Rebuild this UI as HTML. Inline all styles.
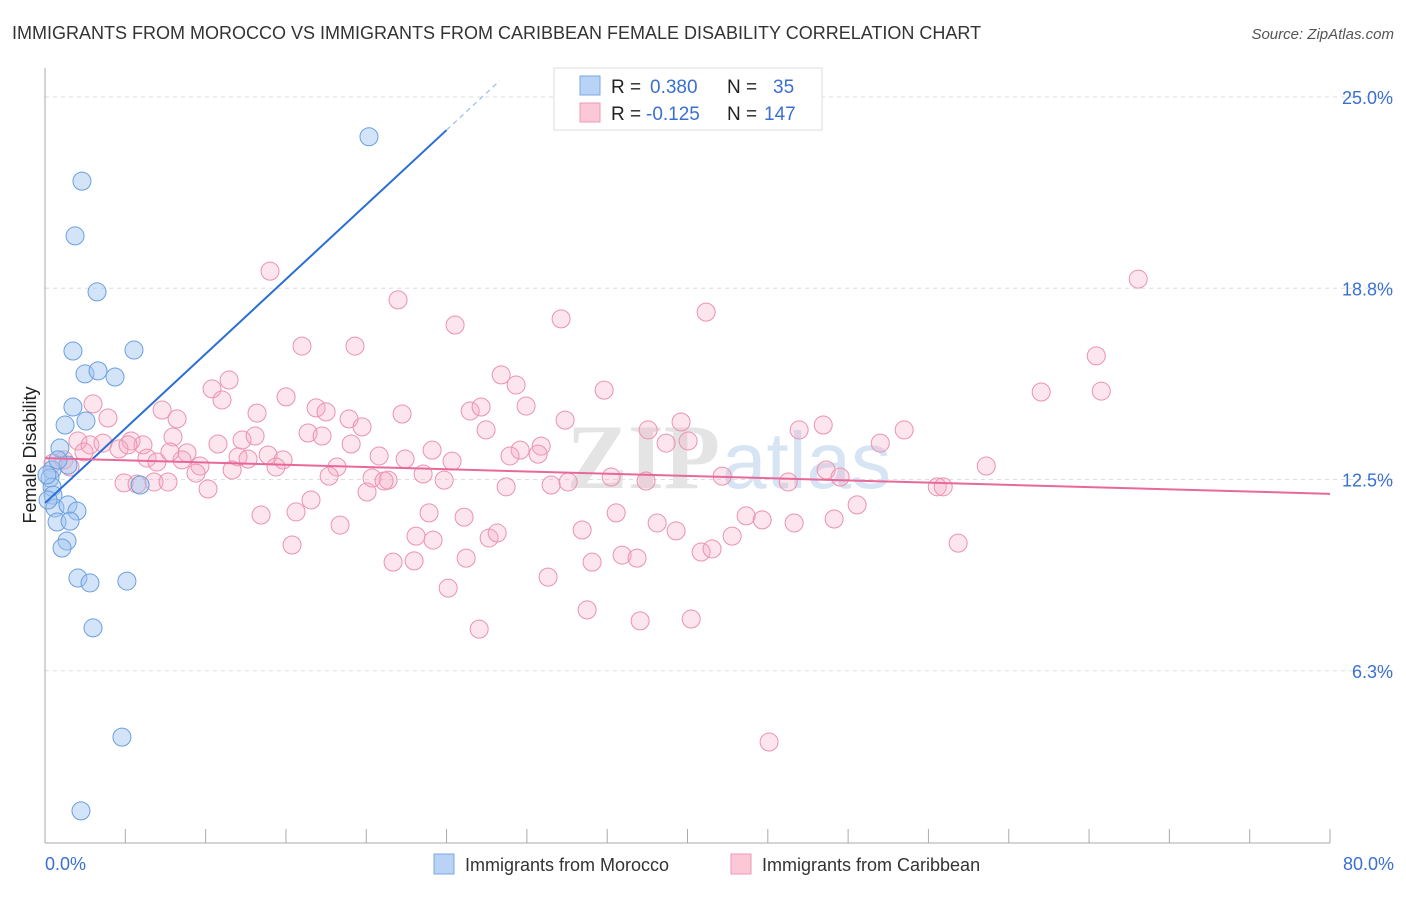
<!DOCTYPE html>
<html><head><meta charset="utf-8"><style>
body{margin:0;background:#fff;font-family:"Liberation Sans",sans-serif}
</style></head><body>
<svg width="1406" height="892" xmlns="http://www.w3.org/2000/svg" font-family="Liberation Sans, sans-serif">
<text x="12" y="39" font-size="18" fill="#333">IMMIGRANTS FROM MOROCCO VS IMMIGRANTS FROM CARIBBEAN FEMALE DISABILITY CORRELATION CHART</text>
<text x="1394" y="39" font-size="15" fill="#555" font-style="italic" text-anchor="end">Source: ZipAtlas.com</text>
<g id="grid"></g>
<text x="720" y="488" font-size="92" font-family="Liberation Serif, serif" fill="#e4e4e4" text-anchor="end" font-weight="bold">ZIP</text>
<text x="722" y="488" font-size="80" fill="#d6e4f4">atlas</text>
<g id="pts"></g>
<g id="lines"></g>
<text x="36" y="455" font-size="18" fill="#222" text-anchor="middle" transform="rotate(-90 36 455)">Female Disability</text>
<text x="45" y="870" font-size="18" fill="#3a70d0">0.0%</text>
<text x="1394" y="870" font-size="18" fill="#3a70d0" text-anchor="end">80.0%</text>
<g>
<rect x="554" y="68" width="268" height="62" fill="#fff" stroke="#ddd"/>
<rect x="580" y="76" width="20" height="19" fill="#b8d3f5" stroke="#7aa8e6"/>
<rect x="580" y="103" width="20" height="19" fill="#fbc8d8" stroke="#ee9ab5"/>
<text x="611" y="93" font-size="19" fill="#222">R =</text><text x="650" y="93" font-size="19" fill="#3a70d0">0.380</text>
<text x="727" y="93" font-size="19" fill="#222">N =</text><text x="773" y="93" font-size="19" fill="#3a70d0">35</text>
<text x="611" y="120" font-size="19" fill="#222">R =</text><text x="646" y="120" font-size="19" fill="#3a70d0">-0.125</text>
<text x="727" y="120" font-size="19" fill="#222">N =</text><text x="764" y="120" font-size="19" fill="#3a70d0">147</text>
</g>
<g>
<rect x="434" y="854" width="20" height="20" fill="#b8d3f5" stroke="#7aa8e6"/>
<text x="465" y="871" font-size="18" fill="#333">Immigrants from Morocco</text>
<rect x="731" y="854" width="20" height="20" fill="#fbc8d8" stroke="#ee9ab5"/>
<text x="762" y="871" font-size="18" fill="#333">Immigrants from Caribbean</text>
</g>
</svg>
<script>
const yTicks=[25.0,18.8,12.5,6.3];
const yTickVals=[25,18.75,12.5,6.25];
const xTicks=[0,10,20,30,40,50,60,70,80];
const moroccoX=[20.17,2.3,1.87,3.24,1.74,5.54,2.49,3.3,4.36,1.74,1.25,2.55,0.93,1.43,0.44,0.31,0.44,0.5,5.92,0.62,1.43,1.99,0.75,1.56,1.37,1.06,2.05,2.8,5.1,2.99,4.79,2.24,0.81,0.19,0.12];
const moroccoY=[23.7,22.25,20.46,18.63,16.7,16.73,15.95,16.05,15.85,14.87,14.28,14.41,13.53,12.97,12.81,12.55,12.25,11.99,12.32,11.57,11.67,11.47,11.11,11.14,10.49,10.26,9.28,9.12,9.18,7.65,4.08,1.67,13.14,11.83,12.65];
const caribX=[14.01,68.06,21.98,32.13,41.16,25.53,16.0,19.3,65.45,28.4,29.33,34.81,62.02,65.76,10.4,11.46,11.02,15.01,7.29,2.99,3.92,8.22,13.2,16.88,17.5,18.93,19.74,22.23,26.47,27.15,27.46,29.95,32.38,37.55,39.6,46.95,48.45,53.49,7.97,5.36,6.1,2.05,2.8,3.61,4.61,10.77,12.27,13.08,16.38,17.25,19.06,20.8,24.1,29.58,30.89,38.67,40.04,52.0,6.35,6.97,8.84,9.65,8.53,12.02,12.64,13.89,14.82,18.18,22.42,25.34,28.95,30.7,2.43,1.18,1.56,0.5,9.4,11.65,14.38,17.69,20.36,21.36,23.54,24.85,28.71,31.51,32.57,35.25,37.42,42.16,46.27,48.63,49.5,58.6,4.92,5.73,6.79,7.66,10.15,20.05,21.11,16.56,13.45,15.63,18.37,23.91,26.09,33.44,35.56,38.11,39.29,43.65,44.65,46.64,49.13,50.56,55.55,55.92,15.38,23.1,24.16,27.65,28.15,26.22,21.67,22.98,34.06,35.93,36.86,40.85,41.53,42.78,56.85,31.32,25.1,33.75,37.05,40.23,27.03,45.08,7.78,5.17];
const caribY=[19.31,19.05,18.37,17.75,17.97,17.55,16.86,16.86,16.54,15.92,15.59,15.42,15.36,15.39,15.46,15.75,15.1,15.2,14.77,14.97,14.51,14.48,14.67,14.84,14.71,14.48,14.22,14.64,14.74,14.87,14.12,14.9,14.44,14.12,14.38,14.12,14.28,14.12,13.89,13.76,13.63,13.76,13.63,13.69,13.5,13.66,13.79,13.92,14.02,13.92,13.66,13.27,13.46,13.46,13.59,13.69,13.76,13.69,13.2,13.07,13.37,12.94,13.14,13.24,13.17,13.3,13.14,12.91,13.17,13.1,13.27,13.33,13.4,13.14,12.91,13.04,12.71,12.81,12.91,12.61,12.55,12.48,12.68,12.48,12.26,12.32,12.42,12.58,12.45,12.61,12.42,12.81,12.58,12.94,12.39,12.35,12.42,12.42,12.19,12.09,12.45,11.83,11.34,11.44,11.01,11.41,11.27,10.85,11.41,11.08,10.82,11.31,11.18,11.08,11.21,11.67,12.26,12.26,10.36,10.65,10.52,10.59,10.75,9.93,9.8,9.84,9.8,10.03,9.93,10.13,10.23,10.65,10.42,9.31,8.95,8.24,7.88,7.94,7.61,3.92,13.4,13.63];
const moroccoTrend=[11.73,0.4876];
const caribTrend=[13.2,-0.0146];
const NS="http://www.w3.org/2000/svg";
const sx=v=>45+v*(1285/80);
const sy=v=>862-v*30.6;
function mk(t,a,p){const e=document.createElementNS(NS,t);for(const k in a)e.setAttribute(k,a[k]);p.appendChild(e);return e;}
const grid=document.getElementById('grid');
yTickVals.forEach((v,i)=>{
 const l=mk('line',{x1:45,x2:1394,y1:sy(v),y2:sy(v),stroke:'#ddd','stroke-dasharray':'4,4'},grid);
 
 
 const t=mk('text',{x:1393,y:sy(v)+7,'font-size':18,fill:'#3a70d0','text-anchor':'end'},grid);
 t.textContent=yTicks[i].toFixed(1)+'%';
 
 
});
const ax=mk('line',{x1:45,x2:1330,y1:843,y2:843,stroke:'#aaa'},grid);


const ay=mk('line',{x1:45,x2:45,y1:68,y2:843,stroke:'#aaa'},grid);


xTicks.forEach(v=>{const l=mk('line',{x1:sx(v),x2:sx(v),y1:829,y2:843,stroke:'#aaa'},grid);
 
 
 if(v<80){const m=mk('line',{x1:sx(v+5),x2:sx(v+5),y1:829,y2:843,stroke:'#aaa'},grid);
 
 }
});
const pts=document.getElementById('pts');
caribX.forEach((x,i)=>{const c=mk('circle',{cx:sx(x),cy:sy(caribY[i]),r:9,fill:'rgba(246,170,196,0.3)',stroke:'#eb92b0','stroke-width':1},pts);
 
 });
moroccoX.forEach((x,i)=>{const c=mk('circle',{cx:sx(x),cy:sy(moroccoY[i]),r:9,fill:'rgba(160,196,240,0.45)',stroke:'#6a9fe0','stroke-width':1},pts);
 
 });
const lines=document.getElementById('lines');
const f=(t,x)=>t[0]+t[1]*x;
const b1=mk('line',{x1:sx(0),y1:sy(f(moroccoTrend,0)),x2:sx(25),y2:sy(f(moroccoTrend,25)),stroke:'#2a6fd6','stroke-width':2},lines);


const b2=mk('line',{x1:sx(25),y1:sy(f(moroccoTrend,25)),x2:sx(28.3),y2:sy(f(moroccoTrend,28.3)),stroke:'#9bbce8','stroke-width':1.2,'stroke-dasharray':'5,4'},lines);


const p1=mk('line',{x1:sx(0),y1:sy(f(caribTrend,0)),x2:sx(80),y2:sy(f(caribTrend,80)),stroke:'#e8689a','stroke-width':2},lines);


</script>
</body></html>
